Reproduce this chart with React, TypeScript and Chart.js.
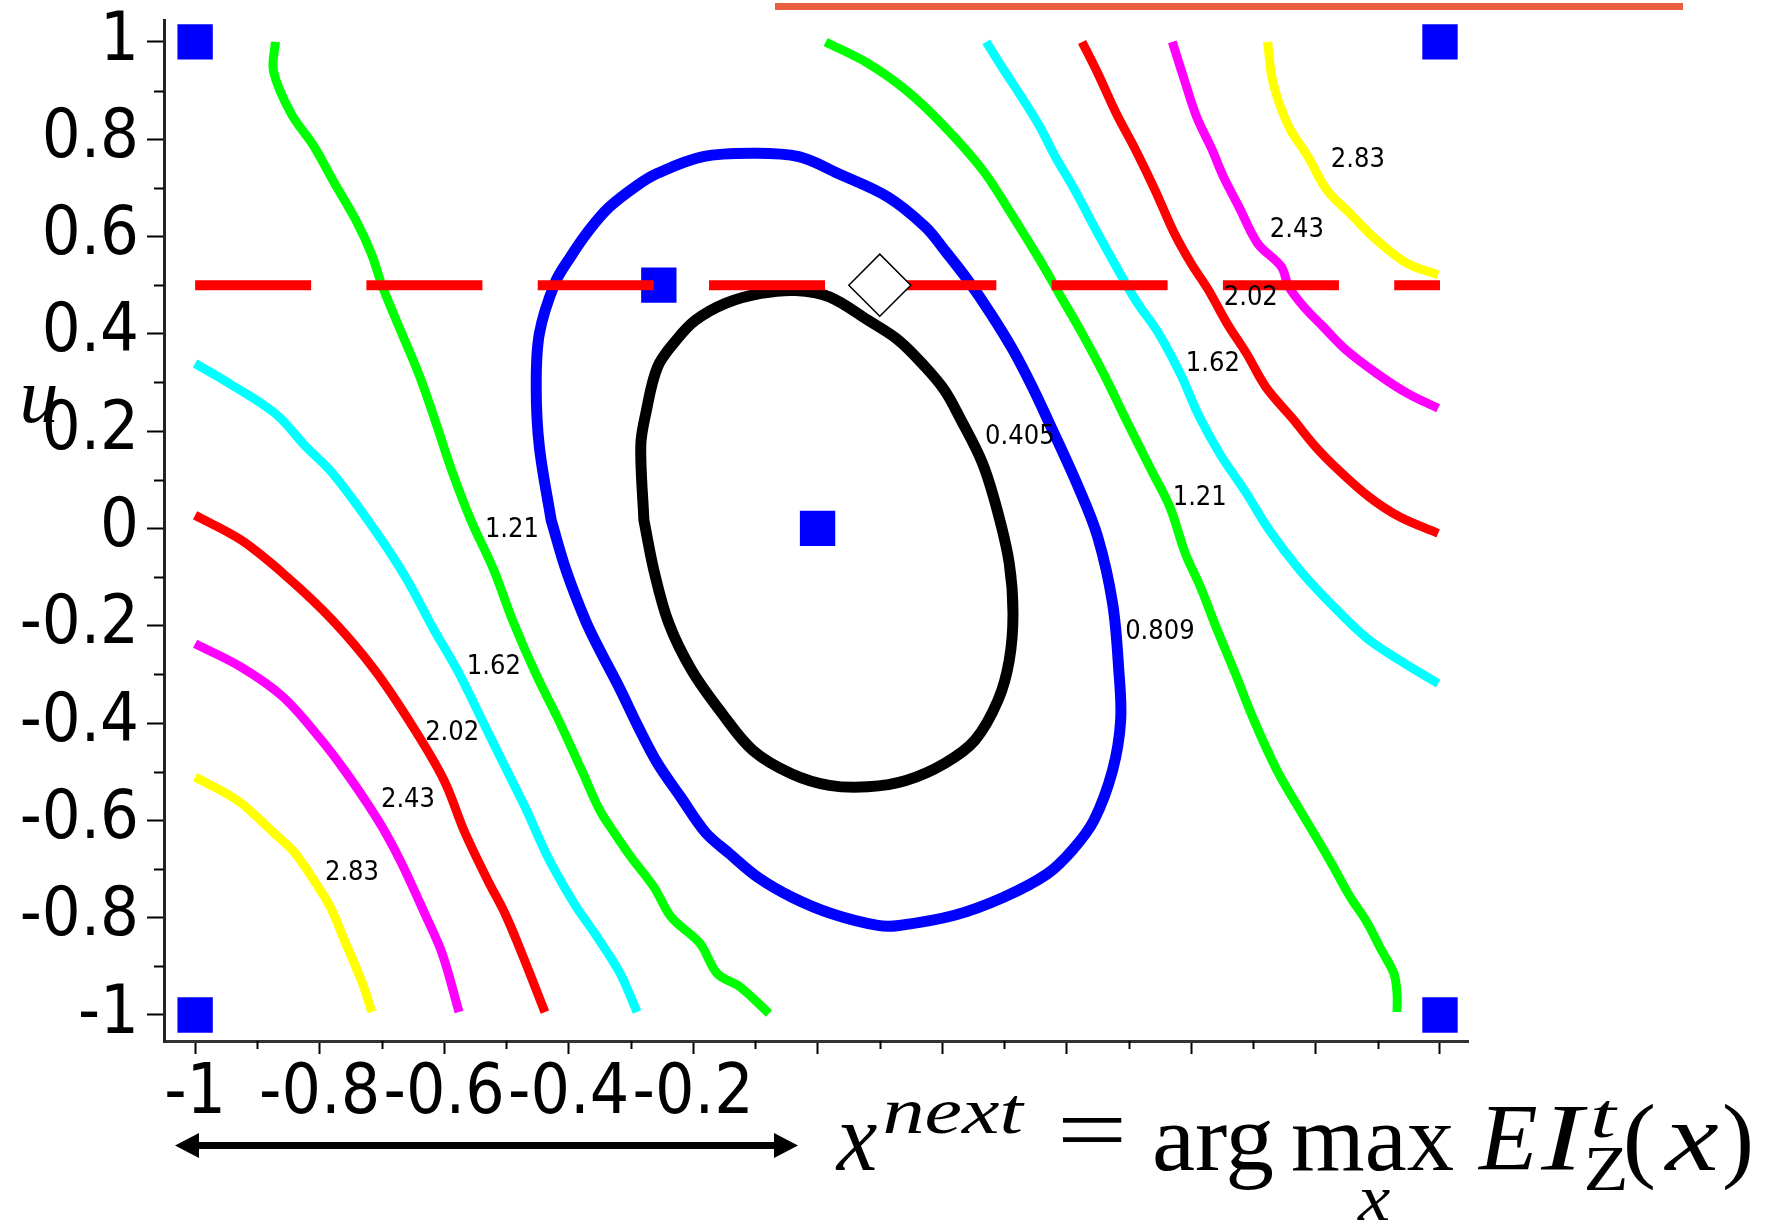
import React, { useEffect, useRef } from 'react';
import { Chart, registerables } from 'chart.js';

Chart.register(...registerables);

type P = [number, number];

// ---- contour levels (EI values) ----
const contour0405: P[] = [
  [-0.279, 0.017], [-0.284, 0.17], [-0.276, 0.236], [-0.257, 0.332], [-0.227, 0.387], [-0.196, 0.428],
  [-0.147, 0.463], [-0.091, 0.483], [-0.035, 0.489], [0.019, 0.476], [0.081, 0.428], [0.13, 0.387],
  [0.173, 0.332], [0.204, 0.284], [0.228, 0.229], [0.265, 0.134], [0.29, 0.031], [0.308, -0.072],
  [0.314, -0.175], [0.308, -0.271], [0.29, -0.353], [0.253, -0.435], [0.204, -0.483], [0.142, -0.518],
  [0.081, -0.531], [0.019, -0.528], [-0.042, -0.504], [-0.104, -0.456], [-0.153, -0.381], [-0.202, -0.292],
  [-0.239, -0.195], [-0.263, -0.086], [-0.279, 0.017],
];

const contour0809: P[] = [
  [-0.428, 0.017], [-0.447, 0.168], [-0.452, 0.29], [-0.447, 0.4], [-0.422, 0.504], [-0.397, 0.558],
  [-0.367, 0.613], [-0.335, 0.66], [-0.29, 0.705], [-0.257, 0.73], [-0.184, 0.764], [-0.104, 0.771],
  [-0.03, 0.764], [0.032, 0.73], [0.112, 0.682], [0.173, 0.62], [0.204, 0.572], [0.241, 0.511],
  [0.278, 0.442], [0.314, 0.367], [0.345, 0.291], [0.37, 0.223], [0.419, 0.085], [0.45, -0.017],
  [0.474, -0.154], [0.484, -0.292], [0.487, -0.394], [0.474, -0.497], [0.444, -0.6], [0.41, -0.66],
  [0.369, -0.71], [0.299, -0.758], [0.22, -0.795], [0.131, -0.816], [0.097, -0.816], [0.023, -0.792],
  [-0.041, -0.758], [-0.096, -0.717], [-0.142, -0.668], [-0.18, -0.625], [-0.22, -0.552], [-0.257, -0.483],
  [-0.288, -0.408], [-0.319, -0.326], [-0.35, -0.25], [-0.373, -0.189], [-0.404, -0.086], [-0.428, 0.017],
];

const contour121Left: P[] = [
  [-0.871, 1.0], [-0.874, 0.939], [-0.846, 0.853], [-0.809, 0.785], [-0.779, 0.716], [-0.742, 0.634],
  [-0.717, 0.565], [-0.699, 0.497], [-0.668, 0.401], [-0.64, 0.315], [-0.616, 0.228], [-0.588, 0.12],
  [-0.557, 0.017], [-0.52, -0.086], [-0.49, -0.189], [-0.453, -0.298], [-0.416, -0.394], [-0.379, -0.497],
  [-0.35, -0.579], [-0.327, -0.625], [-0.3, -0.675], [-0.263, -0.737], [-0.235, -0.799], [-0.189, -0.853],
  [-0.161, -0.915], [-0.124, -0.943], [-0.078, -0.997],
];

const contour121Right: P[] = [
  [0.013, 1.0], [0.081, 0.956], [0.142, 0.901], [0.204, 0.826], [0.265, 0.737], [0.314, 0.641],
  [0.357, 0.552], [0.388, 0.483], [0.425, 0.401], [0.462, 0.312], [0.493, 0.23], [0.536, 0.12],
  [0.566, 0.044], [0.591, -0.052], [0.615, -0.12], [0.64, -0.202], [0.671, -0.298], [0.701, -0.394],
  [0.738, -0.497], [0.769, -0.566], [0.798, -0.628], [0.826, -0.689], [0.856, -0.758], [0.881, -0.806],
  [0.906, -0.867], [0.926, -0.915], [0.931, -0.956], [0.931, -0.994],
];

const contour162Left: P[] = [
  [-1.0, 0.339], [-0.945, 0.298], [-0.871, 0.236], [-0.822, 0.168], [-0.779, 0.113], [-0.711, -0.004],
  [-0.662, -0.1], [-0.619, -0.202], [-0.576, -0.298], [-0.539, -0.394], [-0.502, -0.49], [-0.465, -0.586],
  [-0.45, -0.63], [-0.428, -0.689], [-0.391, -0.771], [-0.354, -0.84], [-0.317, -0.915], [-0.29, -0.994],
];

const contour162Right: P[] = [
  [0.271, 1.0], [0.296, 0.949], [0.327, 0.888], [0.357, 0.826], [0.382, 0.764], [0.413, 0.696],
  [0.45, 0.607], [0.48, 0.538], [0.511, 0.469], [0.548, 0.401], [0.585, 0.312], [0.612, 0.233],
  [0.646, 0.154], [0.689, 0.072], [0.726, -0.004], [0.775, -0.086], [0.824, -0.154], [0.88, -0.223],
  [0.935, -0.271], [0.997, -0.319],
];

const contour202Left: P[] = [
  [-1.0, 0.027], [-0.926, -0.024], [-0.852, -0.1], [-0.779, -0.189], [-0.711, -0.292], [-0.65, -0.408],
  [-0.6, -0.518], [-0.567, -0.624], [-0.53, -0.723], [-0.502, -0.792], [-0.475, -0.874], [-0.438, -0.994],
];

const contour202Right: P[] = [
  [0.425, 1.0], [0.45, 0.936], [0.48, 0.853], [0.511, 0.778], [0.542, 0.696], [0.573, 0.607],
  [0.6, 0.545], [0.628, 0.49], [0.658, 0.421], [0.689, 0.36], [0.72, 0.291], [0.763, 0.226],
  [0.8, 0.168], [0.837, 0.12], [0.886, 0.065], [0.935, 0.024], [0.997, -0.01],
];

const contour243Left: P[] = [
  [-1.0, -0.237], [-0.926, -0.285], [-0.859, -0.346], [-0.797, -0.435], [-0.76, -0.497], [-0.723, -0.566],
  [-0.693, -0.628], [-0.668, -0.689], [-0.631, -0.792], [-0.603, -0.874], [-0.576, -0.994],
];

const contour243Right: P[] = [
  [0.57, 1.0], [0.591, 0.915], [0.609, 0.846], [0.634, 0.778], [0.652, 0.723], [0.677, 0.661],
  [0.707, 0.586], [0.745, 0.538], [0.757, 0.497], [0.781, 0.456], [0.812, 0.415], [0.849, 0.367],
  [0.898, 0.319], [0.947, 0.278], [0.997, 0.247],
];

const contour283Left: P[] = [
  [-1.0, -0.511], [-0.932, -0.559], [-0.87, -0.63], [-0.843, -0.662], [-0.816, -0.71], [-0.783, -0.778],
  [-0.76, -0.847], [-0.733, -0.929], [-0.716, -0.994],
];

const contour283Right: P[] = [
  [0.723, 1.0], [0.732, 0.915], [0.757, 0.826], [0.788, 0.764], [0.818, 0.696], [0.855, 0.648],
  [0.898, 0.593], [0.947, 0.545], [0.997, 0.521],
];

// contour level labels
const levelLabelTexts = ['2.83', '2.43', '2.02', '1.62', '1.21', '0.809', '0.405', '1.21', '1.62', '2.02', '2.43', '2.83'];
const levelLabelX = [0.868, 0.77, 0.696, 0.635, 0.614, 0.55, 0.325, -0.491, -0.52, -0.587, -0.658, -0.748];
const levelLabelY = [0.757, 0.613, 0.474, 0.338, 0.062, -0.213, 0.188, -0.004, -0.285, -0.421, -0.559, -0.709];

// design points, next point, slice line
const designPoints: P[] = [[-1, 1], [1, 1], [-1, -1], [1, -1], [0, 0], [-0.255, 0.5]];
const nextPoint: P[] = [[0.1, 0.5]];
const sliceLine: P[] = [[-1, 0.5], [1, 0.5]];

// ticks
const tickValues = [-1, -0.9, -0.8, -0.7, -0.6, -0.5, -0.4, -0.3, -0.2, -0.1, 0, 0.1, 0.2, 0.3, 0.4, 0.5, 0.6, 0.7, 0.8, 0.9, 1];
const xLabelValues = [-1, -0.8, -0.6, -0.4, -0.2];
const xLabelTexts = ['-1', '-0.8', '-0.6', '-0.4', '-0.2'];
const yLabelValues = [1, 0.8, 0.6, 0.4, 0.2, 0, -0.2, -0.4, -0.6, -0.8, -1];
const yLabelTexts = ['1', '0.8', '0.6', '0.4', '0.2', '0', '-0.2', '-0.4', '-0.6', '-0.8', '-1'];

const toXY = (pts: P[]) => pts.map(([x, y]) => ({ x, y }));
const isMajor = (v: number) => Math.abs(Math.round(v * 10)) % 2 === 0;
const findLabel = (vals: number[], texts: string[], v: number) => {
  const i = vals.findIndex((a) => Math.abs(a - v) < 1e-6);
  return i >= 0 ? texts[i] : '';
};

const TICK_FONT = "'DejaVu Sans Condensed', 'DejaVu Sans', sans-serif";
const SERIF = "'Liberation Serif', 'Times New Roman', serif";

// draw text so that its ink spans [left, right] horizontally
function fitText(ctx: CanvasRenderingContext2D, text: string, left: number, right: number, baseline: number, size: number, italic: boolean) {
  ctx.font = `${italic ? 'italic ' : ''}${size}px ${SERIF}`;
  ctx.textAlign = 'left';
  ctx.textBaseline = 'alphabetic';
  const m = ctx.measureText(text);
  const ink = m.actualBoundingBoxLeft + m.actualBoundingBoxRight;
  let sx = ink > 0 ? (right - left) / ink : 1;
  sx = Math.max(0.8, Math.min(1.45, sx));
  ctx.save();
  ctx.translate(left + m.actualBoundingBoxLeft * sx, baseline);
  ctx.scale(sx, 1);
  ctx.fillText(text, 0, 0);
  ctx.restore();
}

const decorPlugin = {
  id: 'decor',
  afterDraw(chart: any) {
    const ctx: CanvasRenderingContext2D = chart.ctx;
    const xs = chart.scales.x;
    const ys = chart.scales.y;
    const area = chart.chartArea;
    ctx.save();

    // minor ticks
    ctx.strokeStyle = '#000';
    ctx.lineWidth = 2;
    for (const v of tickValues) {
      if (isMajor(v)) continue;
      const px = Math.round(xs.getPixelForValue(v)) + 0.5;
      ctx.beginPath();
      ctx.moveTo(px, area.bottom);
      ctx.lineTo(px, area.bottom + 8);
      ctx.stroke();
      const py = Math.round(ys.getPixelForValue(v)) + 0.5;
      ctx.beginPath();
      ctx.moveTo(area.left - 10, py);
      ctx.lineTo(area.left, py);
      ctx.stroke();
    }

    // contour level labels
    const labelMeta = chart.getDatasetMeta(chart.data.datasets.findIndex((d: any) => d.label === 'levels'));
    ctx.fillStyle = '#000';
    ctx.font = `27px ${TICK_FONT}`;
    ctx.textAlign = 'center';
    ctx.textBaseline = 'middle';
    labelMeta.data.forEach((el: any, i: number) => {
      ctx.fillText(levelLabelTexts[i], el.x, el.y);
    });

    // orange bar at the top
    ctx.fillStyle = '#EA6041';
    ctx.fillRect(775, 3, 908, 7);

    // double arrow under the axis
    ctx.fillStyle = '#000';
    ctx.fillRect(196, 1142, 580, 7);
    ctx.beginPath();
    ctx.moveTo(175, 1145.5);
    ctx.lineTo(199, 1133);
    ctx.lineTo(199, 1158);
    ctx.closePath();
    ctx.fill();
    ctx.beginPath();
    ctx.moveTo(798, 1145.5);
    ctx.lineTo(774, 1133);
    ctx.lineTo(774, 1158);
    ctx.closePath();
    ctx.fill();

    // y-axis name
    ctx.textAlign = 'center';
    ctx.textBaseline = 'alphabetic';
    ctx.font = `italic 78px ${SERIF}`;
    ctx.fillText('u', 39, 422);

    // formula x^{next} = arg max_x EI^t_Z(x)
    fitText(ctx, 'x', 835, 877, 1170, 98, true);
    fitText(ctx, 'next', 885, 1025, 1133, 66, true);
    fitText(ctx, '=', 1062, 1122, 1162, 96, false);
    fitText(ctx, 'arg', 1155, 1273, 1170, 96, false);
    fitText(ctx, 'max', 1293, 1453, 1170, 96, false);
    fitText(ctx, 'x', 1357, 1390, 1220, 66, true);
    fitText(ctx, 'E', 1477, 1537, 1170, 96, true);
    fitText(ctx, 'I', 1540, 1588, 1170, 96, true);
    fitText(ctx, 't', 1593, 1620, 1137, 64, true);
    fitText(ctx, 'Z', 1587, 1625, 1190, 64, false);
    fitText(ctx, '(', 1627, 1653, 1170, 96, false);
    fitText(ctx, 'x', 1663, 1718, 1170, 98, true);
    fitText(ctx, ')', 1725, 1750, 1170, 96, false);
    ctx.restore();
  },
};

export default function App() {
  const ref = useRef<HTMLCanvasElement>(null);

  useEffect(() => {
    if (!ref.current) return;
    const line = (label: string, pts: P[], color: string, width: number, order: number, cap = 'butt') => ({
      label,
      data: toXY(pts),
      showLine: true,
      borderColor: color,
      backgroundColor: color,
      borderWidth: width,
      borderCapStyle: cap,
      borderJoinStyle: 'round',
      pointRadius: 0,
      tension: 0.35,
      fill: false,
      order,
      clip: false,
    });

    const chart = new Chart(ref.current, {
      type: 'scatter',
      data: {
        datasets: [
          {
            label: 'next',
            data: toXY(nextPoint),
            pointStyle: 'rectRot',
            pointRadius: 31,
            backgroundColor: '#ffffff',
            borderColor: '#000000',
            borderWidth: 1.5,
            order: 0,
            clip: false,
          } as any,
          {
            label: 'slice',
            data: toXY(sliceLine),
            showLine: true,
            borderColor: '#FF0000',
            borderWidth: 10,
            borderDash: [116, 55.3],
            borderCapStyle: 'butt',
            pointRadius: 0,
            order: 1,
          },
          {
            label: 'design',
            data: toXY(designPoints),
            pointStyle: 'rect',
            pointRadius: 25,
            backgroundColor: '#0000FF',
            borderWidth: 0,
            order: 2,
            clip: false,
          },
          {
            label: 'levels',
            data: levelLabelX.map((x, i) => ({ x, y: levelLabelY[i] })),
            pointRadius: 0,
            order: 3,
          },
          line('0.405', contour0405, '#000000', 11, 4, 'round'),
          line('0.809', contour0809, '#0000FF', 11, 5, 'round'),
          line('1.21a', contour121Left, '#00FF00', 9, 6),
          line('1.21b', contour121Right, '#00FF00', 9, 6),
          line('1.62a', contour162Left, '#00FFFF', 9, 7),
          line('1.62b', contour162Right, '#00FFFF', 9, 7),
          line('2.02a', contour202Left, '#FF0000', 9, 8),
          line('2.02b', contour202Right, '#FF0000', 9, 8),
          line('2.43a', contour243Left, '#FF00FF', 9, 9),
          line('2.43b', contour243Right, '#FF00FF', 9, 9),
          line('2.83a', contour283Left, '#FFFF00', 9, 10),
          line('2.83b', contour283Right, '#FFFF00', 9, 10),
        ] as any,
      },
      options: {
        responsive: false,
        animation: false,
        devicePixelRatio: 1,
        events: [],
        layout: { autoPadding: false, padding: { top: 20, right: 302, bottom: 0, left: 0 } },
        plugins: {
          legend: { display: false },
          tooltip: { enabled: false },
          title: { display: false },
        },
        scales: {
          x: {
            type: 'linear',
            position: 'bottom',
            min: -1.05,
            max: 1.045,
            afterBuildTicks: (scale: any) => {
              scale.ticks = tickValues.map((v) => ({ value: v }));
            },
            afterFit: (scale: any) => {
              scale.height = 190;
              scale.paddingLeft = 0;
              scale.paddingRight = 0;
            },
            ticks: {
              autoSkip: false,
              maxRotation: 0,
              minRotation: 0,
              padding: 7,
              color: '#000',
              font: { family: TICK_FONT, size: 69, lineHeight: 1 },
              callback: (v: any) => findLabel(xLabelValues, xLabelTexts, Number(v)),
            },
            grid: {
              display: true,
              drawOnChartArea: false,
              drawTicks: true,
              tickLength: 13,
              tickWidth: 2,
              tickColor: (c: any) => (c.tick && isMajor(c.tick.value) ? '#000' : 'rgba(0,0,0,0)'),
            },
            border: { display: true, color: '#333', width: 3 },
          },
          y: {
            type: 'linear',
            position: 'left',
            min: -1.0535,
            max: 1.045,
            afterBuildTicks: (scale: any) => {
              scale.ticks = tickValues.map((v) => ({ value: v }));
            },
            afterFit: (scale: any) => {
              scale.width = 164;
              scale.paddingTop = 0;
              scale.paddingBottom = 0;
            },
            ticks: {
              autoSkip: false,
              padding: 8,
              color: '#000',
              font: { family: TICK_FONT, size: 68, lineHeight: 0.3 },
              callback: (v: any) => findLabel(yLabelValues, yLabelTexts, Number(v)),
            },
            grid: {
              display: true,
              drawOnChartArea: false,
              drawTicks: true,
              tickLength: 17,
              tickWidth: 2,
              tickColor: (c: any) => (c.tick && isMajor(c.tick.value) ? '#000' : 'rgba(0,0,0,0)'),
            },
            border: { display: true, color: '#222', width: 3 },
          },
        },
      } as any,
      plugins: [decorPlugin],
    });
    return () => chart.destroy();
  }, []);

  return (
    <div style={{ position: 'absolute', left: 0, top: 0, width: 1770, height: 1231, background: '#fff' }}>
      <canvas ref={ref} width={1770} height={1231} style={{ display: 'block', width: 1770, height: 1231 }} />
    </div>
  );
}
